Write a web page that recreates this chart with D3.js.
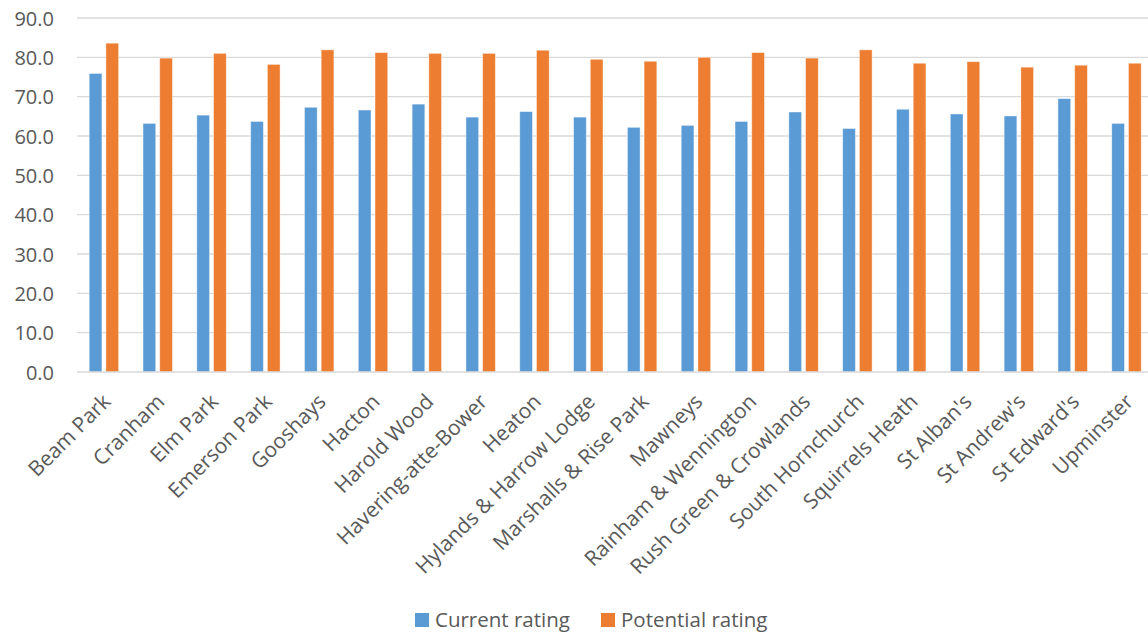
<!DOCTYPE html>
<html><head><meta charset="utf-8">
<script src="https://cdn.jsdelivr.net/npm/d3@7/dist/d3.min.js"></script>
<style>body{margin:0;background:#fff;}svg{display:block;font-family:"Open Sans",sans-serif;}</style>
</head><body>
<svg id="c" width="1148" height="632"></svg>
<script>
const categories = ["Beam Park","Cranham","Elm Park","Emerson Park","Gooshays","Hacton","Harold Wood","Havering-atte-Bower","Heaton","Hylands & Harrow Lodge","Marshalls & Rise Park","Mawneys","Rainham & Wennington","Rush Green & Crowlands","South Hornchurch","Squirrels Heath","St Alban's","St Andrew's","St Edward's","Upminster"];
const currentRating = [75.9,63.2,65.3,63.7,67.3,66.6,68.1,64.8,66.2,64.8,62.2,62.7,63.7,66.1,61.9,66.8,65.6,65.1,69.5,63.2];
const potentialRating = [83.6,79.8,81.0,78.2,81.9,81.2,81.0,81.0,81.8,79.5,79.0,80.0,81.2,79.8,81.9,78.5,78.9,77.5,78.0,78.5];
const seriesNames = ["Current rating","Potential rating"];
const colors = ["#5b9bd5","#ed7d31"];
const yTicks = [0,10,20,30,40,50,60,70,80,90];

(function(){
const svg = d3.select("#c");
const mLeft = 77, mRight = 1153.4, mTop = 18, mBottom = 372;
const x = d3.scaleBand().domain(categories).range([mLeft,mRight]).paddingInner(0).paddingOuter(0);
const x1 = d3.scaleBand().domain(seriesNames).range([0,x.bandwidth()]).paddingInner(0.24).paddingOuter(0.73);
const y = d3.scaleLinear().domain([0,90]).range([mBottom,mTop]);

svg.append("g").selectAll("line").data(yTicks.slice(1)).join("line")
  .attr("x1",mLeft).attr("x2",1148).attr("y1",d=>y(d)).attr("y2",d=>y(d))
  .attr("stroke","#d9d9d9").attr("stroke-width",1.3);

const yAxis = d3.axisLeft(y).tickValues(yTicks).tickFormat(d3.format(".1f")).tickSize(0).tickPadding(0);
const ya = svg.append("g").attr("transform",`translate(54,0)`).call(yAxis);
ya.select(".domain").remove();
ya.selectAll("text").attr("fill","#595959").style("font-size","20px").style("font-family","'Open Sans',sans-serif").attr("dy","0.35em");

const series = [currentRating, potentialRating];
series.forEach((vals,si)=>{
  svg.append("g").selectAll("rect").data(vals).join("rect")
    .attr("x",(d,i)=>x(categories[i])+x1(seriesNames[si]))
    .attr("width",x1.bandwidth())
    .attr("y",d=>y(d)).attr("height",d=>y(0)-y(d))
    .attr("fill",colors[si])
    .attr("stroke","#ffffff").attr("stroke-opacity",0.5).attr("stroke-width",0.8);
});

svg.append("line").attr("x1",mLeft).attr("x2",1148).attr("y1",y(0)).attr("y2",y(0))
  .attr("stroke","#d9d9d9").attr("stroke-width",1.3);

const xAxis = d3.axisBottom(x).tickSize(0).tickPadding(0);
const xa = svg.append("g").attr("transform",`translate(0,${mBottom})`).call(xAxis);
xa.select(".domain").remove();
xa.selectAll("text")
  .attr("fill","#595959").style("font-size","21px").style("font-family","'Open Sans',sans-serif")
  .attr("text-anchor","end").attr("dy","0")
  .attr("transform","translate(8,31) rotate(-45)");

const leg = svg.append("g");
const legX = [415, 601];
seriesNames.forEach((n,i)=>{
  leg.append("rect").attr("x",legX[i]).attr("y",613).attr("width",14).attr("height",14).attr("fill",colors[i]);
  leg.append("text").attr("x",legX[i]+20).attr("y",620).attr("dy","0.35em")
    .attr("fill","#595959").style("font-size","20.5px").text(n);
});
})();
</script>
</body></html>
